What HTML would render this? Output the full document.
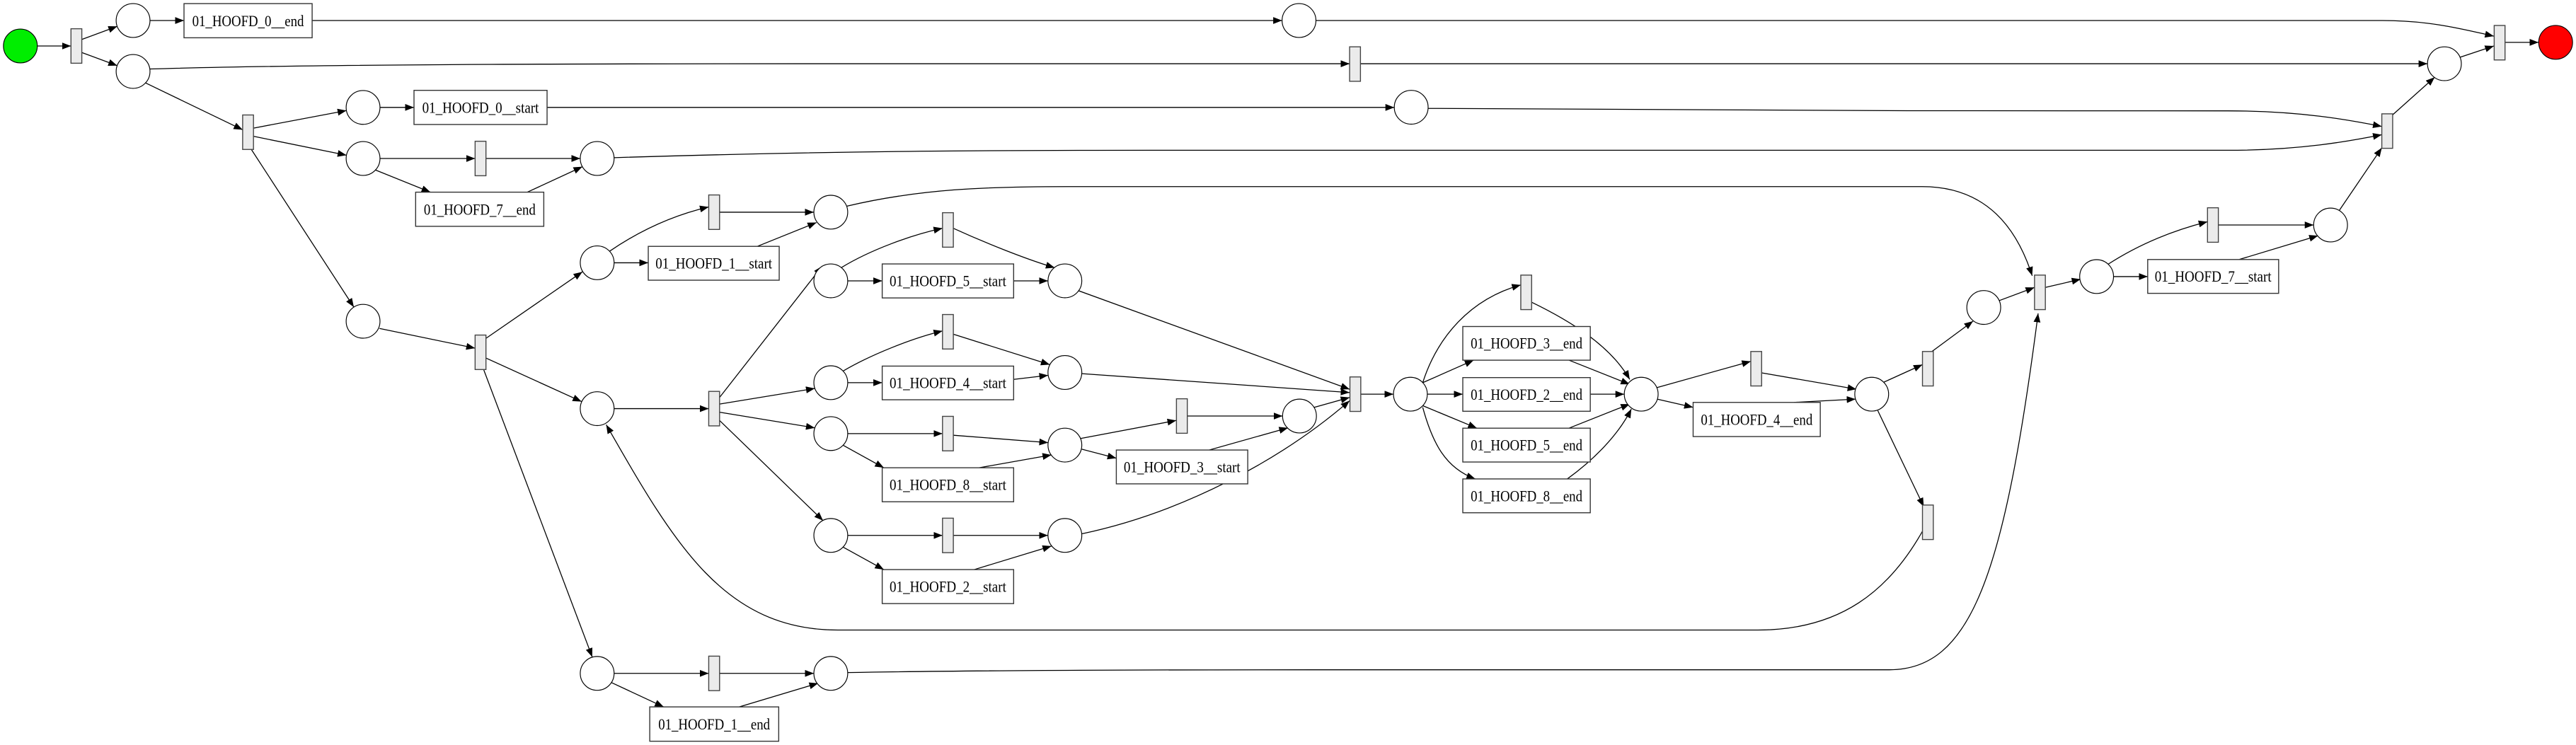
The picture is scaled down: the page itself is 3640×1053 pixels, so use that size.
<!DOCTYPE html>
<html><head><meta charset="utf-8"><style>
html,body{margin:0;padding:0;background:#fff;}
svg{display:block;}
text{font-family:"Liberation Serif",serif;font-size:9.6px;fill:#000;text-anchor:middle;dominant-baseline:central;}
.e{fill:none;stroke:#000;stroke-width:0.55;marker-end:url(#a);}
.p{fill:#fff;stroke:#000;stroke-width:0.5;}
.t{fill:#ebebeb;stroke:#444;stroke-width:0.6;}
.b{fill:#fff;stroke:#333;stroke-width:0.6;}
</style></head><body>
<svg width="3640" height="1053" viewBox="0 0 1568 453.6" preserveAspectRatio="none" xmlns="http://www.w3.org/2000/svg">
<defs><marker id="a" markerUnits="userSpaceOnUse" markerWidth="6" markerHeight="5" refX="5.4" refY="2.1" orient="auto"><path d="M0,0 L5.4,2.1 L0,4.2 z" fill="#000"/></marker></defs>
<g>
<path class="e" d="M22.7,28 L43.2,28"/>
<path class="e" d="M49.8,24 L71.35,16.06"/>
<path class="e" d="M49.8,32 L71.35,39.94"/>
<path class="e" d="M91.3,12.5 L112,12.5"/>
<path class="e" d="M190,12.5 L780.4,12.5"/>
<path class="e" d="M801,12.5 L1450,12.5 C1480,12.5 1500,18 1518,22"/>
<path class="e" d="M91.3,42 C200,38.8 400,38.8 500,38.8 L821.5,38.8"/>
<path class="e" d="M828,38.8 L1477.6,38.8"/>
<path class="e" d="M88.6,50.5 L147.7,79"/>
<path class="e" d="M154.3,78 L210.9,67.3"/>
<path class="e" d="M154.3,83 L210.9,94.5"/>
<path class="e" d="M153,91 L215.4,187"/>
<path class="e" d="M231.3,65.4 L252,65.4"/>
<path class="e" d="M333,65.4 L848.7,65.4"/>
<path class="e" d="M869.3,66 C1000,67.5 1200,67.5 1356,67.5 C1400,67.5 1430,73 1449.8,77"/>
<path class="e" d="M231.3,96.5 L289.2,96.5"/>
<path class="e" d="M228.5,103.5 L262,117"/>
<path class="e" d="M295.8,96.5 L353.2,96.5"/>
<path class="e" d="M321,117 L354.5,101.5"/>
<path class="e" d="M373.8,96 C500,92 600,91.5 700,91.5 L1356,91.5 C1400,91.5 1430,86 1449.8,82"/>
<path class="e" d="M231,200 L289.2,212"/>
<path class="e" d="M295.8,206 L354.5,165.5"/>
<path class="e" d="M295.8,218 L354,244.5"/>
<path class="e" d="M294.5,225.3 L360.5,400"/>
<path class="e" d="M371,153 C390,140 410,131 431.4,126"/>
<path class="e" d="M373.8,160 L394.6,160"/>
<path class="e" d="M438,129.2 L495.4,129.2"/>
<path class="e" d="M461,150 L497,135.5"/>
<path class="e" d="M515.5,125.5 C560,115 600,113.6 650,113.6 L1170,113.6 C1210,113.6 1228,140 1237,167.9"/>
<path class="e" d="M373.8,248.8 L431.4,248.8"/>
<path class="e" d="M438,242 L500.5,162"/>
<path class="e" d="M438,246 L496,236.5"/>
<path class="e" d="M438,251 L496,260.5"/>
<path class="e" d="M438,256 L501,317"/>
<path class="e" d="M512,163 C530,152 555,143 573.7,139"/>
<path class="e" d="M516,171 L537,171"/>
<path class="e" d="M580.3,139 C600,148 625,158 642,163"/>
<path class="e" d="M617,171 L637.9,171"/>
<path class="e" d="M656.5,177 L821.5,237"/>
<path class="e" d="M513,226 C530,216 555,206 573.7,201.5"/>
<path class="e" d="M516,233 L537,233"/>
<path class="e" d="M580.3,203.5 L639,222"/>
<path class="e" d="M617,231 L638,228.5"/>
<path class="e" d="M658.5,227.5 L821.5,239"/>
<path class="e" d="M516,264 L573.7,264"/>
<path class="e" d="M513,271 L538,284.8"/>
<path class="e" d="M580.3,265 L638,269.5"/>
<path class="e" d="M596,284.8 L640,277"/>
<path class="e" d="M657.5,267 L716,256"/>
<path class="e" d="M658.5,273.5 L679.5,279"/>
<path class="e" d="M722.7,253.3 L780.7,253.3"/>
<path class="e" d="M736,274 L784,260.5"/>
<path class="e" d="M800,248 L821.5,242"/>
<path class="e" d="M516,326 L573.7,326"/>
<path class="e" d="M513,333 L538,346.8"/>
<path class="e" d="M580.3,326 L637.9,326"/>
<path class="e" d="M593,346.8 L640,332.5"/>
<path class="e" d="M658.5,325 C720,312 780,280 821.5,244"/>
<path class="e" d="M828.3,240 L848.2,240"/>
<path class="e" d="M866,233 C875,205 895,182 925.7,173.5"/>
<path class="e" d="M866,233 L897,219.3"/>
<path class="e" d="M868.8,240 L890.4,240"/>
<path class="e" d="M866,247 L899,260.7"/>
<path class="e" d="M866,248 C872,270 880,285 898,291.6"/>
<path class="e" d="M932.3,184 C955,195 980,210 992,231"/>
<path class="e" d="M955,219.3 L992,234"/>
<path class="e" d="M968,240 L988.7,240"/>
<path class="e" d="M955,260.7 L992,246"/>
<path class="e" d="M954,291.6 C970,280 985,265 993,249"/>
<path class="e" d="M1008.5,236 L1065.7,220"/>
<path class="e" d="M1008.7,243 L1030.6,248"/>
<path class="e" d="M1072.3,227 L1130,237"/>
<path class="e" d="M1092,245 L1129.5,243"/>
<path class="e" d="M1146,233 L1170.2,222"/>
<path class="e" d="M1143,250 L1171,308.5"/>
<path class="e" d="M1176,214 L1201,195.5"/>
<path class="e" d="M1217,183 L1238.4,175"/>
<path class="e" d="M1171,322 C1150,360 1120,383.6 1070,383.6 L510,383.6 C440,383.6 410,330 369,258.6"/>
<path class="e" d="M516,409.5 C600,408 700,407.8 800,407.8 L1150,407.8 C1200,407.8 1220,350 1240.6,190.8"/>
<path class="e" d="M1245,175 L1266.5,170"/>
<path class="e" d="M1283,161 C1300,150 1320,141 1343.7,135"/>
<path class="e" d="M1286.5,168.4 L1307.3,168.4"/>
<path class="e" d="M1350.3,137 L1408.3,137"/>
<path class="e" d="M1363,158 L1411,143.5"/>
<path class="e" d="M1424,128 L1449.8,90"/>
<path class="e" d="M1456.3,70 L1482,47"/>
<path class="e" d="M1497,35 L1518,28"/>
<path class="e" d="M1525,25.8 L1545.2,25.8"/>
<path class="e" d="M373.8,410 L431.4,410"/>
<path class="e" d="M372,415.5 L404,430.4"/>
<path class="e" d="M438,410 L495.4,410"/>
<path class="e" d="M450,430.4 L498,416"/>
</g>
<g>
<circle cx="12.4" cy="28" r="10.3" fill="#00ee00" stroke="#000" stroke-width="0.5"/>
<circle cx="1555.6" cy="25.8" r="10.3" fill="#ff0000" stroke="#000" stroke-width="0.5"/>
<circle class="p" cx="81" cy="12.5" r="10.3"/>
<circle class="p" cx="81" cy="43.5" r="10.3"/>
<circle class="p" cx="221" cy="65.4" r="10.3"/>
<circle class="p" cx="221" cy="96.5" r="10.3"/>
<circle class="p" cx="363.5" cy="96.5" r="10.3"/>
<circle class="p" cx="221" cy="195.6" r="10.3"/>
<circle class="p" cx="363.5" cy="160" r="10.3"/>
<circle class="p" cx="505.7" cy="129.2" r="10.3"/>
<circle class="p" cx="363.5" cy="248.8" r="10.3"/>
<circle class="p" cx="505.7" cy="171" r="10.3"/>
<circle class="p" cx="648.2" cy="171" r="10.3"/>
<circle class="p" cx="505.7" cy="233" r="10.3"/>
<circle class="p" cx="648.2" cy="226.8" r="10.3"/>
<circle class="p" cx="505.7" cy="264" r="10.3"/>
<circle class="p" cx="648.2" cy="271" r="10.3"/>
<circle class="p" cx="791" cy="253.3" r="10.3"/>
<circle class="p" cx="505.7" cy="326" r="10.3"/>
<circle class="p" cx="648.2" cy="326" r="10.3"/>
<circle class="p" cx="858.5" cy="240" r="10.3"/>
<circle class="p" cx="999" cy="240" r="10.3"/>
<circle class="p" cx="1139.3" cy="240" r="10.3"/>
<circle class="p" cx="1207.5" cy="187.2" r="10.3"/>
<circle class="p" cx="1276.2" cy="168.4" r="10.3"/>
<circle class="p" cx="1418.6" cy="137" r="10.3"/>
<circle class="p" cx="1487.9" cy="38.8" r="10.3"/>
<circle class="p" cx="790.7" cy="12.5" r="10.3"/>
<circle class="p" cx="859" cy="65.3" r="10.3"/>
<circle class="p" cx="363.5" cy="410" r="10.3"/>
<circle class="p" cx="505.7" cy="410" r="10.3"/>
</g>
<g>
<rect class="t" x="43.2" y="17.5" width="6.6" height="21"/>
<rect class="t" x="147.7" y="70" width="6.6" height="21"/>
<rect class="t" x="289.2" y="86" width="6.6" height="21"/>
<rect class="t" x="289.2" y="204" width="6.6" height="21"/>
<rect class="t" x="431.4" y="118.7" width="6.6" height="21"/>
<rect class="t" x="431.4" y="238.3" width="6.6" height="21"/>
<rect class="t" x="573.7" y="129.5" width="6.6" height="21"/>
<rect class="t" x="573.7" y="191.5" width="6.6" height="21"/>
<rect class="t" x="573.7" y="253.5" width="6.6" height="21"/>
<rect class="t" x="716.1" y="242.8" width="6.6" height="21"/>
<rect class="t" x="573.7" y="315.5" width="6.6" height="21"/>
<rect class="t" x="821.7" y="229.5" width="6.6" height="21"/>
<rect class="t" x="925.7" y="167.5" width="6.6" height="21"/>
<rect class="t" x="1065.7" y="214" width="6.6" height="21"/>
<rect class="t" x="1170.2" y="214" width="6.6" height="21"/>
<rect class="t" x="1170.2" y="307.5" width="6.6" height="21"/>
<rect class="t" x="1238.4" y="167.5" width="6.6" height="21"/>
<rect class="t" x="1343.7" y="126.5" width="6.6" height="21"/>
<rect class="t" x="1449.8" y="69.3" width="6.6" height="21"/>
<rect class="t" x="1518.2" y="15.5" width="6.6" height="21"/>
<rect class="t" x="821.5" y="28.5" width="6.6" height="21"/>
<rect class="t" x="431.4" y="399.5" width="6.6" height="21"/>
</g>
<g>
<rect class="b" x="112" y="2.2" width="78" height="20.8"/><text x="151" y="12.6" textLength="68" lengthAdjust="spacingAndGlyphs">01_HOOFD_0__end</text>
<rect class="b" x="252" y="55" width="81" height="20.8"/><text x="292.5" y="65.4" textLength="71" lengthAdjust="spacingAndGlyphs">01_HOOFD_0__start</text>
<rect class="b" x="253" y="117" width="78" height="20.8"/><text x="292" y="127.4" textLength="68" lengthAdjust="spacingAndGlyphs">01_HOOFD_7__end</text>
<rect class="b" x="394.6" y="150" width="79.7" height="20.6"/><text x="434.5" y="160.3" textLength="71" lengthAdjust="spacingAndGlyphs">01_HOOFD_1__start</text>
<rect class="b" x="537" y="160.7" width="80" height="20.7"/><text x="577" y="171" textLength="71" lengthAdjust="spacingAndGlyphs">01_HOOFD_5__start</text>
<rect class="b" x="537" y="222.9" width="80" height="20.5"/><text x="577" y="233.1" textLength="71" lengthAdjust="spacingAndGlyphs">01_HOOFD_4__start</text>
<rect class="b" x="537" y="284.8" width="80" height="20.7"/><text x="577" y="295.1" textLength="71" lengthAdjust="spacingAndGlyphs">01_HOOFD_8__start</text>
<rect class="b" x="679.5" y="274" width="80" height="20.6"/><text x="719.5" y="284.3" textLength="71" lengthAdjust="spacingAndGlyphs">01_HOOFD_3__start</text>
<rect class="b" x="537" y="346.8" width="80" height="20.7"/><text x="577" y="357.1" textLength="71" lengthAdjust="spacingAndGlyphs">01_HOOFD_2__start</text>
<rect class="b" x="890.4" y="198.8" width="77.6" height="20.5"/><text x="929.2" y="209" textLength="68" lengthAdjust="spacingAndGlyphs">01_HOOFD_3__end</text>
<rect class="b" x="890.4" y="229.9" width="77.6" height="20.5"/><text x="929.2" y="240.1" textLength="68" lengthAdjust="spacingAndGlyphs">01_HOOFD_2__end</text>
<rect class="b" x="890.4" y="260.7" width="77.6" height="20.6"/><text x="929.2" y="271" textLength="68" lengthAdjust="spacingAndGlyphs">01_HOOFD_5__end</text>
<rect class="b" x="890.4" y="291.6" width="77.6" height="20.6"/><text x="929.2" y="301.9" textLength="68" lengthAdjust="spacingAndGlyphs">01_HOOFD_8__end</text>
<rect class="b" x="1030.6" y="245" width="77.4" height="20.8"/><text x="1069.3" y="255.4" textLength="68" lengthAdjust="spacingAndGlyphs">01_HOOFD_4__end</text>
<rect class="b" x="1307.3" y="158" width="79.7" height="20.6"/><text x="1347.1" y="168.3" textLength="71" lengthAdjust="spacingAndGlyphs">01_HOOFD_7__start</text>
<rect class="b" x="395.5" y="430.4" width="78.5" height="20.9"/><text x="434.7" y="440.9" textLength="68" lengthAdjust="spacingAndGlyphs">01_HOOFD_1__end</text>
</g>
</svg>
</body></html>
